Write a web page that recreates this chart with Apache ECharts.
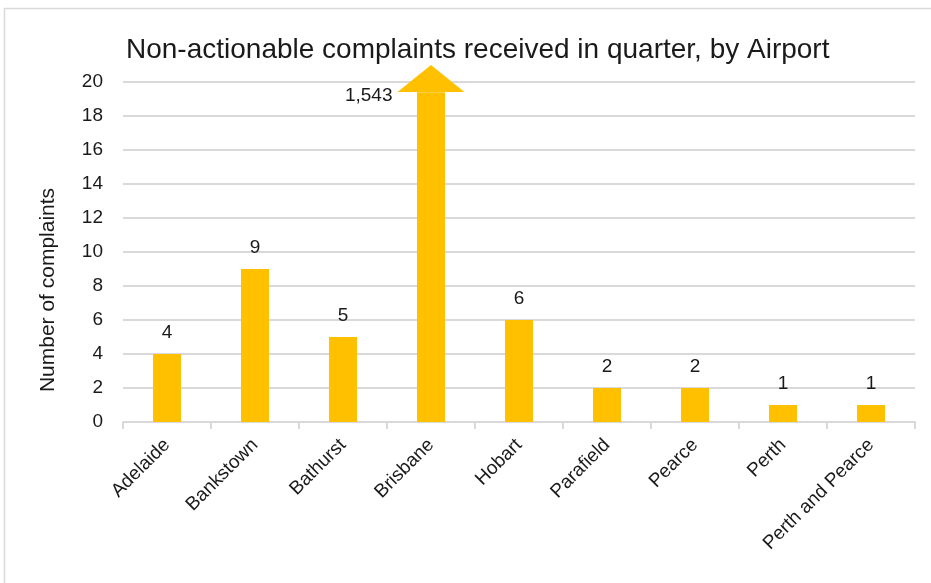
<!DOCTYPE html>
<html>
<head>
<meta charset="utf-8">
<script src="https://cdn.jsdelivr.net/npm/echarts@6/dist/echarts.min.js"></script>
<style>
  html, body { margin: 0; padding: 0; background: #fff; }
  #complaints { width: 931px; height: 583px; }
</style>
</head>
<body>
<div id="complaints"></div>
<script>
// 各机场数据
const airports = ["Adelaide", "Bankstown", "Bathurst", "Brisbane", "Hobart", "Parafield", "Pearce", "Perth", "Perth and Pearce"];
const complaints = [4, 9, 5, 1543, 6, 2, 2, 1, 1];
const yTicks = [0, 2, 4, 6, 8, 10, 12, 14, 16, 18, 20];
// 超出坐标轴的柱子截断到这里，上面画箭头
const capValue = 19.4;
const arrowValue = 20.2;

const chart = echarts.init(document.getElementById("complaints"));
const axisMax = yTicks[yTicks.length - 1];
const gold = "#FFC000";
const font = "'Liberation Sans', Arial, sans-serif";

const barData = complaints.map(v => {
  if (v > axisMax) {
    return { value: capValue, label: { show: false } };
  }
  return v;
});

const arrowData = [];
complaints.forEach((v, i) => {
  if (v > axisMax) {
    arrowData.push({ value: [airports[i], arrowValue], realValue: v });
  }
});

let option = {
  animation: false,
  textStyle: { fontFamily: font },
  title: {
    text: "Non-actionable complaints received in quarter, by Airport",
    left: 121,
    top: 31,
    textStyle: {
      color: "#1a1a1a",
      fontSize: 28,
      fontWeight: "normal",
      fontFamily: font
    }
  },
  graphic: [
    {
      type: "rect",
      shape: { x: 4.5, y: 8.5, width: 940, height: 580 },
      style: { fill: "none", stroke: "#d9d9d9", lineWidth: 1.5 },
      silent: true
    }
  ],
  grid: {
    left: 123,
    right: 16,
    top: 82,
    bottom: 161,
    containLabel: false
  },
  xAxis: {
    type: "category",
    data: airports,
    axisLine: { lineStyle: { color: "#d9d9d9", width: 2 } },
    axisTick: { show: true, length: 7, lineStyle: { color: "#d9d9d9", width: 2 } },
    axisLabel: {
      rotate: 45,
      interval: 0,
      color: "#1a1a1a",
      fontSize: 19,
      margin: 20
    }
  },
  yAxis: {
    type: "value",
    min: yTicks[0],
    max: axisMax,
    interval: 2,
    name: "Number of complaints",
    nameLocation: "middle",
    nameGap: 64,
    nameTextStyle: {
      color: "#1a1a1a",
      fontSize: 21,
      // 往下挪一点，和原图对齐
      padding: [0, 76, 0, 0]
    },
    axisLine: { show: false },
    axisTick: { show: false },
    axisLabel: { color: "#1a1a1a", fontSize: 19, margin: 20 },
    splitLine: {
      lineStyle: {
        color: "#d9d9d9",
        width: 2
      }
    }
  },
  series: [
    {
      name: "Complaints",
      type: "bar",
      data: barData,
      barWidth: 28,
      itemStyle: { color: gold },
      label: {
        show: true,
        position: "top",
        distance: 12,
        color: "#1a1a1a",
        fontSize: 19
      }
    },
    {
      name: "Overflow",
      type: "scatter",
      clip: false,
      symbol: "triangle",
      symbolSize: [67, 27],
      data: arrowData,
      itemStyle: { color: gold, opacity: 1 },
      z: 3,
      label: {
        show: true,
        position: "left",
        distance: 5,
        offset: [0, 17],
        color: "#1a1a1a",
        fontSize: 19,
        formatter: p => p.data.realValue.toLocaleString("en-US")
      }
    }
  ]
};

chart.setOption(option);
</script>
</body>
</html>
